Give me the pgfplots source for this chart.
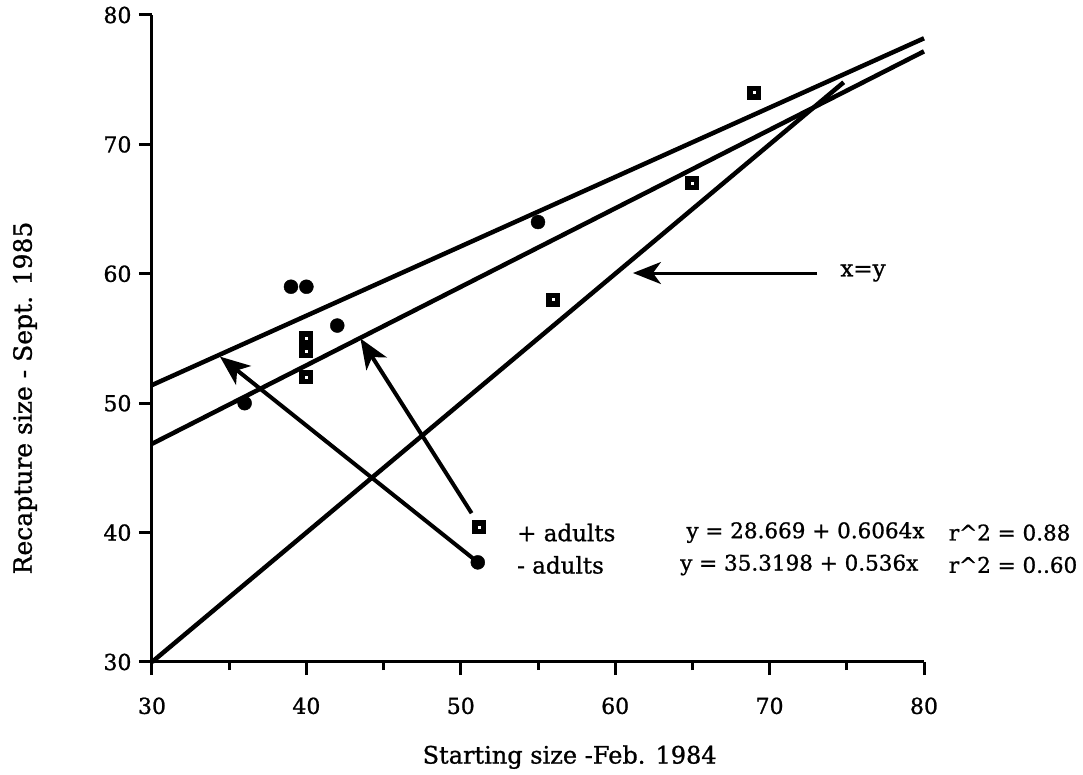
\documentclass[border=0pt]{standalone}
\usepackage{fontspec}
\setmainfont{DejaVu Serif}[FakeBold=1]
\usepackage{pgfplots}
\pgfplotsset{compat=1.18}
\usetikzlibrary{arrows.meta}

\begin{document}
\begin{tikzpicture}[font=\fontsize{23}{27}\selectfont]
\begin{axis}[
    scale only axis,
    width=772pt, height=647pt,
    xmin=30, xmax=80, ymin=30, ymax=80,
    axis x line=bottom, axis y line=left,
    axis line style={-, line width=3pt},
    xtick={30,40,...,80}, ytick={30,40,...,80},
    minor x tick num=1,
    tick align=outside,
    major tick length=13pt, minor tick length=8pt,
    tick style={black, line width=3pt},
    /pgf/number format/assume math mode=true,
    ticklabel style={font=\fontsize{22}{26}\selectfont},
    xticklabel style={yshift=-19pt},
    yticklabel style={xshift=-4pt},
    xlabel={Starting size -Feb. 1984},
    ylabel={Recapture size - Sept. 1985},
    xlabel style={at={(axis description cs:0.541,-0.147)}, anchor=center,
        font=\fontsize{24}{28}\selectfont},
    ylabel style={at={(axis description cs:-0.1645,0.408)}, anchor=center,
        font=\fontsize{25}{29}\selectfont},
    clip=false,
]
% regression lines and x=y
\addplot[black, line width=4.5pt] coordinates {(30,46.86) (80,77.19)};
\addplot[black, line width=4.5pt] coordinates {(30,51.40) (80,78.20)};
\addplot[black, line width=4.5pt] coordinates {(30,30) (74.8,74.8)};

% - adults
\addplot[only marks, mark=*, mark size=7pt, black]
    coordinates {(36,50) (39,59) (40,59) (42,56) (55,64)};
% + adults
\addplot[only marks, mark=square*, mark size=4.3pt,
    mark options={fill=white, draw=black, line width=5.5pt}]
    coordinates {(40,55) (40,54) (40,52) (56,58) (65,67) (69,74)};

% legend keys
\addplot[only marks, mark=square*, mark size=4.3pt,
    mark options={fill=white, draw=black, line width=5.5pt}]
    coordinates {(51.2,40.4)};
\addplot[only marks, mark=*, mark size=7pt, black]
    coordinates {(51.1,37.7)};

% arrows
\draw[line width=4pt, -{Stealth[length=30pt,width=24pt,inset=8pt]}]
    (axis cs:50.7,41.5) -- (axis cs:43.5,55.0);
\draw[line width=4pt, -{Stealth[length=30pt,width=24pt,inset=8pt]}]
    (axis cs:50.9,37.9) -- (axis cs:34.4,53.6);
\draw[line width=3pt, -{Stealth[length=28pt,width=22pt,inset=8pt]}]
    (axis cs:73.07,60.06) -- (axis cs:61.15,60.06);

\node[anchor=west, inner sep=0pt] at (axis cs:53.64,40.0) {+ adults};
\node[anchor=west, inner sep=0pt] at (axis cs:53.64,37.5) {- adults};
\begin{scope}[font=\fontsize{21.5}{26}\selectfont]
\node[anchor=west, inner sep=0pt] at (axis cs:64.6,40.0) {y = 28.669 + 0.6064x};
\node[anchor=west, inner sep=0pt] at (axis cs:81.6,40.0) {r\textasciicircum 2 = 0.88};
\node[anchor=west, inner sep=0pt] at (axis cs:64.2,37.5) {y = 35.3198 + 0.536x};
\node[anchor=west, inner sep=0pt] at (axis cs:81.6,37.5) {r\textasciicircum 2 = 0..60};
\end{scope}
\node[inner sep=0pt] at (axis cs:76.05,60.06) {x=y};

\coordinate (bl) at (rel axis cs:0,0);
\coordinate (tr) at (rel axis cs:1,1);
\end{axis}
\pgfresetboundingbox
\path[use as bounding box] ([xshift=-152pt,yshift=-113pt]bl) rectangle ([xshift=159pt,yshift=15pt]tr);
\end{tikzpicture}
\end{document}
